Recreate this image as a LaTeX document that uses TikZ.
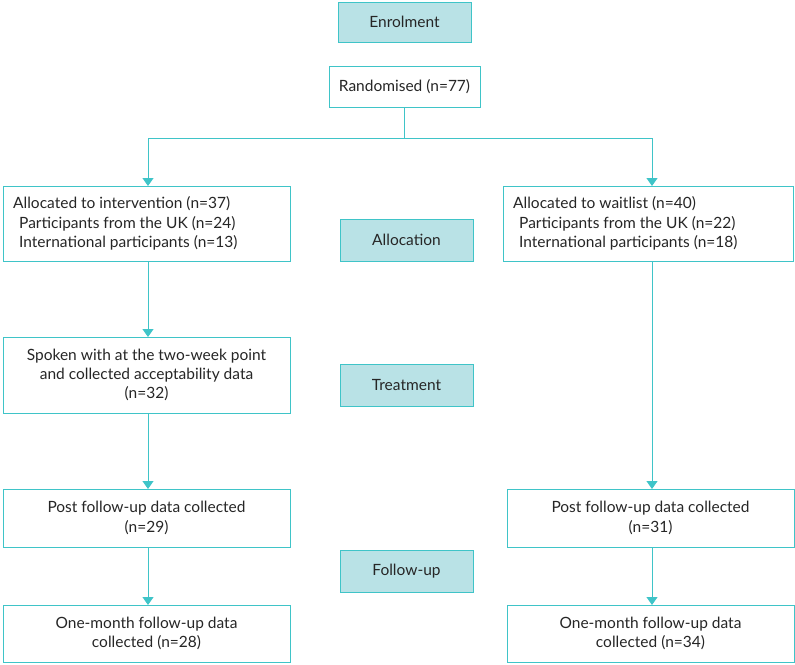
\documentclass[tikz,border=0pt]{standalone}
\usepackage{fontspec}
\setmainfont{Lato}
\usetikzlibrary{arrows.meta}
\definecolor{teal1}{HTML}{3FC4C8}
\definecolor{tealfill}{HTML}{B9E2E6}
\definecolor{txt}{HTML}{262626}
\begin{document}
\begin{tikzpicture}[x=1pt,y=-1pt,
  every node/.style={font=\fontsize{15.5}{19.3}\selectfont, text=txt, inner sep=0pt},
  box/.style={draw=teal1, line width=1pt, fill=white},
  stage/.style={draw=teal1, line width=1pt, fill=tealfill},
  conn/.style={draw=teal1, line width=1pt},
  arr/.style={conn, -{Triangle[length=8pt,width=11pt]}}]
\useasboundingbox (0,0) rectangle (795,664);
% stage boxes
\draw[stage] (338,2) rectangle (471,42); \node (enrol) at (404.5,22) {Enrolment};
\draw[stage] (340,219) rectangle (473,261); \node (alloc) at (406.5,240) {Allocation};
\draw[stage] (340,364) rectangle (473,406); \node (treat) at (406.5,385) {Treatment};
\draw[stage] (340,550) rectangle (473,592); \node (follow) at (406.5,571) {Follow-up};
% randomised
\draw[box] (329,66) rectangle (480,107); \node (rand) at (404.5,87) {Randomised (n=77)};
\coordinate (randb) at (404,107);
% allocated boxes
\draw[box] (3,186) rectangle (290,261);
\node[anchor=west, align=left] (allocL) at (13,223.5) {Allocated to intervention (n=37)\\\hspace*{6pt}Participants from the UK (n=24)\\\hspace*{6pt}International participants (n=13)};
\draw[box] (503,186) rectangle (793,261);
\node[anchor=west, align=left] (allocR) at (513,223.5) {Allocated to waitlist (n=40)\\\hspace*{6pt}Participants from the UK (n=22)\\\hspace*{6pt}International participants (n=18)};
\coordinate (aLt) at (148,186); \coordinate (aLb) at (148,261);
\coordinate (aRt) at (652,186); \coordinate (aRb) at (652,261);
% treatment
\draw[box] (3,337) rectangle (290,413);
\node[align=center] (spoken) at (146.5,375) {Spoken with at the two-week point\\and collected acceptability data\\(n=32)};
\coordinate (sLt) at (148,337); \coordinate (sLb) at (148,413);
% post follow-up
\draw[box] (3,489) rectangle (290,547);
\node[align=center] (postL) at (146.5,518) {Post follow-up data collected\\(n=29)};
\draw[box] (507,489) rectangle (794,547);
\node[align=center] (postR) at (650.5,518) {Post follow-up data collected\\(n=31)};
\coordinate (pLt) at (148,489); \coordinate (pLb) at (148,547);
\coordinate (pRt) at (652,489); \coordinate (pRb) at (652,547);
% one-month
\draw[box] (3,605) rectangle (290,662);
\node[align=center] (oneL) at (146.5,633.5) {One-month follow-up data\\collected (n=28)};
\draw[box] (507,605) rectangle (794,662);
\node[align=center] (oneR) at (650.5,633.5) {One-month follow-up data\\collected (n=34)};
\coordinate (oLt) at (148,605); \coordinate (oRt) at (652,605);
% connectors
\coordinate (split) at (404,138);
\draw[conn] (randb) -- (split);
\draw[arr] (split) -| (aLt);
\draw[arr] (split) -| (aRt);
\draw[arr] (aLb) -- (sLt);
\draw[arr] (sLb) -- (pLt);
\draw[arr] (aRb) -- (pRt);
\draw[arr] (pLb) -- (oLt);
\draw[arr] (pRb) -- (oRt);
\end{tikzpicture}
\end{document}
